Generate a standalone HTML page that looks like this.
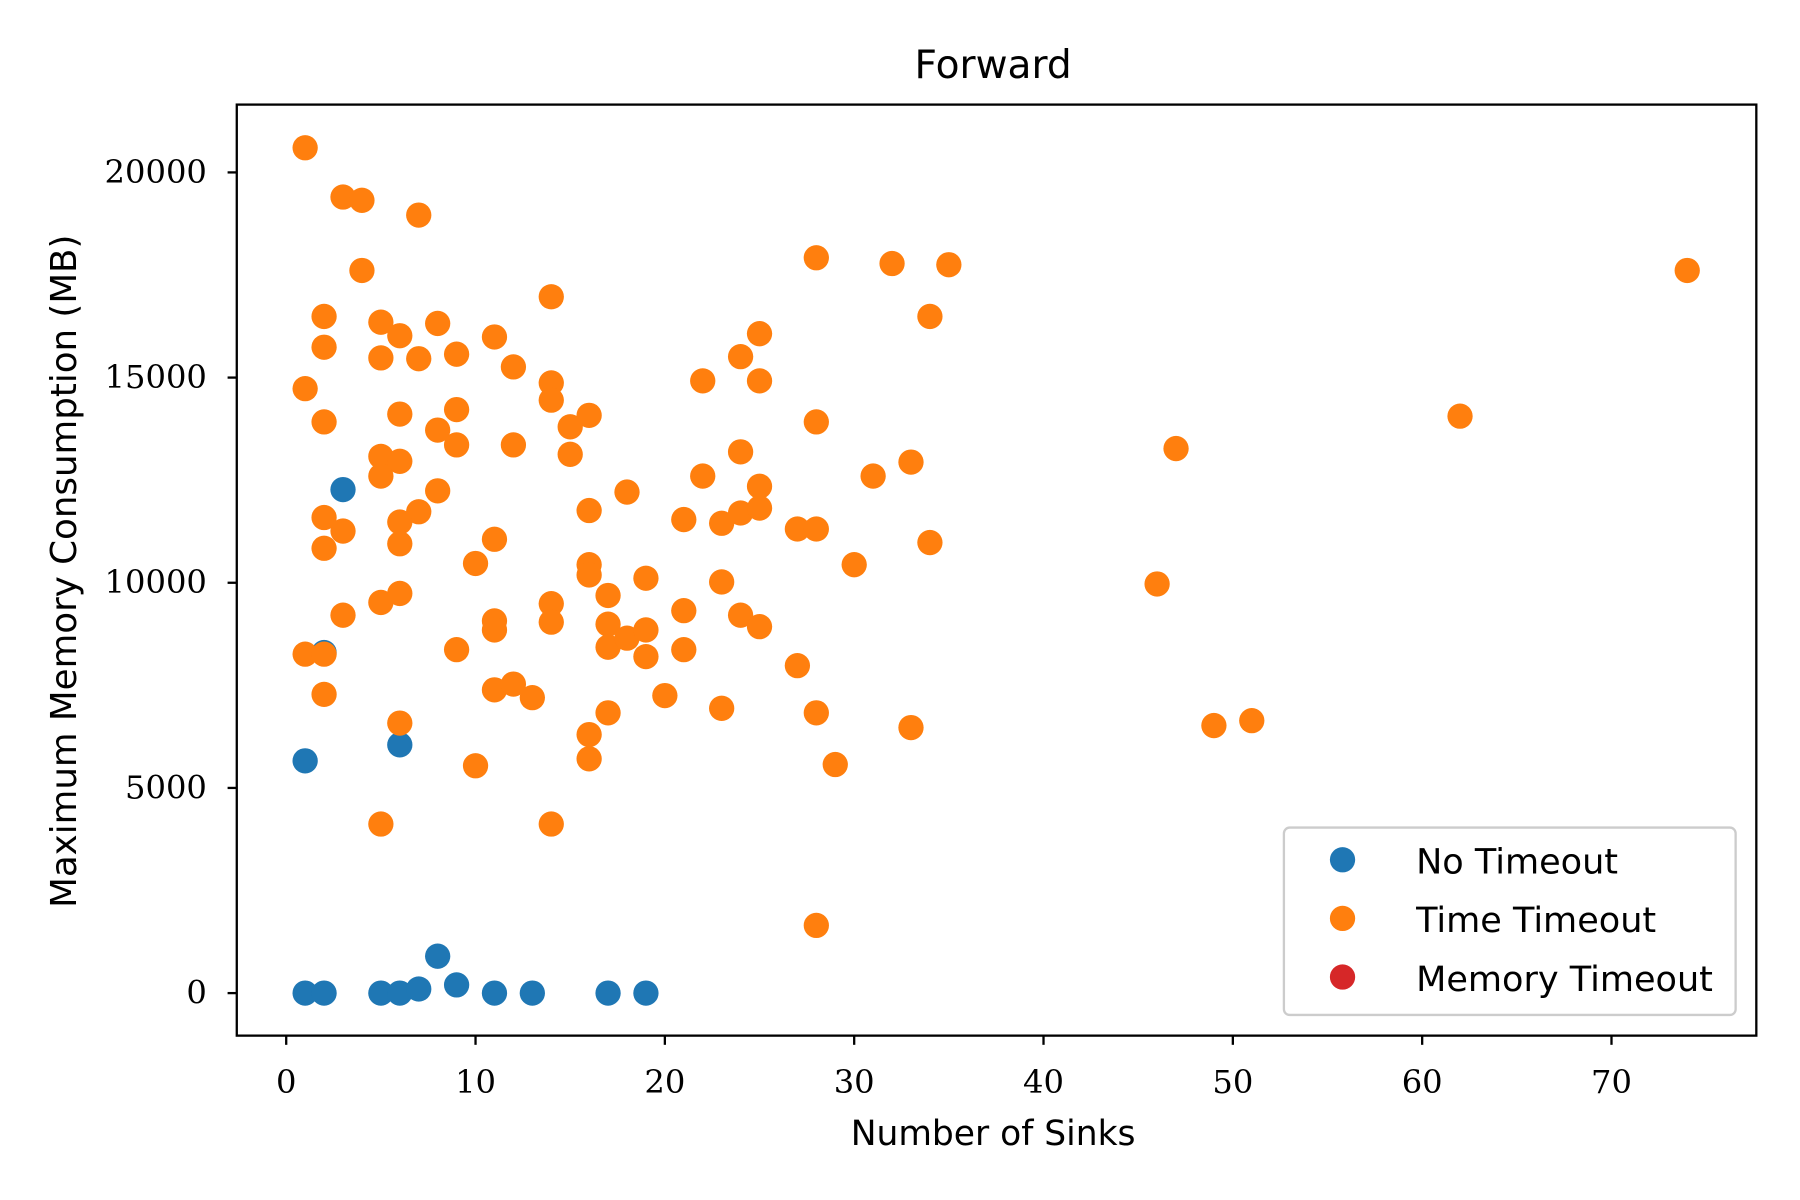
<!DOCTYPE html>
<html><head><meta charset="utf-8"><style>
html,body{margin:0;padding:0;background:#fff}
svg{display:block}
.sans{font-family:"DejaVu Sans","Liberation Sans",sans-serif}
.serif{font-family:"DejaVu Serif","Liberation Serif",serif}
</style></head><body>
<svg id="chart" width="1800" height="1200" viewBox="0 0 1566 1044" xmlns="http://www.w3.org/2000/svg">
<rect width="1566" height="1044" fill="#fff"/>
<text class="sans" x="864" y="68" font-size="34" text-anchor="middle">Forward</text>
<g id="ticks"></g>
<g id="marks"></g>
<rect x="206" y="91" width="1322" height="810" fill="none" stroke="#000" stroke-width="2"/>
<text class="sans" x="864" y="996" font-size="30" text-anchor="middle">Number of Sinks</text>
<text class="sans" x="0" y="0" font-size="31" text-anchor="middle" transform="translate(66,497) rotate(-90)">Maximum Memory Consumption (MB)</text>
<g>
<rect x="1117" y="720" width="393" height="163" rx="5" fill="#fff" fill-opacity="0.8" stroke="#ccc" stroke-width="2"/>
<circle cx="1168" cy="748" r="11" fill="#1f77b4"/>
<text class="sans" x="1232" y="760" font-size="30.5">No Timeout</text>
<circle cx="1168" cy="799" r="11" fill="#ff7f0e"/>
<text class="sans" x="1232" y="811" font-size="30.5">Time Timeout</text>
<circle cx="1168" cy="850" r="11" fill="#d62728"/>
<text class="sans" x="1232" y="862" font-size="30.5">Memory Timeout</text>
</g>
</svg>
<script>
const xTicks=[0,10,20,30,40,50,60,70];
const yTicks=[0,5000,10000,15000,20000];
const noTimeoutX=[1,3,2,6,1,2,5,6,7,8,9,11,13,17,19];
const noTimeoutY=[5660,12270,8300,6050,0,0,0,0,100,900,200,0,0,0,0];
const timeTimeoutX=[1,3,4,7,4,14,2,5,8,6,11,2,5,7,9,12,1,6,9,14,14,16,15,2,8,5,6,9,12,15,5,8,7,2,3,6,6,2,11,10,16,16,16,18,5,6,3,14,14,11,11,17,17,17,18,19,19,19,9,1,2,2,11,12,13,17,20,21,21,21,22,22,23,23,23,24,24,24,24,25,25,25,25,25,16,16,6,10,5,14,27,27,28,28,28,28,28,29,30,31,32,33,33,34,34,35,46,47,49,51,62,74];
const timeTimeoutY=[20600,19400,19320,18960,17610,16970,16490,16350,16320,16020,15990,15740,15480,15460,15570,15260,14730,14110,14220,14870,14450,14080,13800,13920,13720,13080,12960,13360,13360,13130,12600,12240,11730,11590,11260,11480,10950,10840,11060,10470,11760,10440,10190,12210,9520,9740,9210,9490,9040,9070,8850,9690,8990,8430,8650,8850,10110,8200,8370,8260,8260,7280,7390,7530,7200,6830,7250,8370,9320,11540,12600,14920,11450,10020,6940,15510,13190,11700,9210,16070,14920,12350,11820,8930,6300,5710,6580,5540,4120,4120,11310,7980,17920,13920,11310,6830,1650,5570,10440,12600,17780,12940,6470,16490,10980,17750,9970,13270,6520,6640,14060,17610];
const memoryTimeoutX=[];
const memoryTimeoutY=[];
const NS="http://www.w3.org/2000/svg";
function sx(v){return 249+v*(1402-249)/70;}
function sy(v){return 864-v*(864-150)/20000;}
const tg=document.getElementById('ticks');
xTicks.forEach(t=>{
  const l=document.createElementNS(NS,'line');
  l.setAttribute('x1',sx(t));l.setAttribute('x2',sx(t));l.setAttribute('y1',901);l.setAttribute('y2',909);
  l.setAttribute('stroke','#000');l.setAttribute('stroke-width','2');
  
  
  tg.appendChild(l);
  const tx=document.createElementNS(NS,'text');
  tx.setAttribute('x',sx(t));tx.setAttribute('y',951);tx.setAttribute('text-anchor','middle');
  tx.setAttribute('font-size','28');tx.setAttribute('class','serif');tx.textContent=t;
  
  
  tg.appendChild(tx);
});
yTicks.forEach(t=>{
  const l=document.createElementNS(NS,'line');
  l.setAttribute('x1',198);l.setAttribute('x2',206);l.setAttribute('y1',sy(t));l.setAttribute('y2',sy(t));
  l.setAttribute('stroke','#000');l.setAttribute('stroke-width','2');
  
  
  tg.appendChild(l);
  const tx=document.createElementNS(NS,'text');
  tx.setAttribute('x',180);tx.setAttribute('y',sy(t)+9);tx.setAttribute('text-anchor','end');
  tx.setAttribute('font-size','28');tx.setAttribute('class','serif');tx.textContent=t;
  
  
  tg.appendChild(tx);
});
const mg=document.getElementById('marks');
function draw(xs,ys,color,name){
  xs.forEach((x,i)=>{
    const c=document.createElementNS(NS,'circle');
    c.setAttribute('cx',sx(x));c.setAttribute('cy',sy(ys[i]));c.setAttribute('r',11);c.setAttribute('fill',color);
    
    
    mg.appendChild(c);
  });
}
draw(noTimeoutX,noTimeoutY,'#1f77b4','point-no-timeout');
draw(timeTimeoutX,timeTimeoutY,'#ff7f0e','point-time-timeout');
draw(memoryTimeoutX,memoryTimeoutY,'#d62728','point-memory-timeout');
</script>
</body></html>
